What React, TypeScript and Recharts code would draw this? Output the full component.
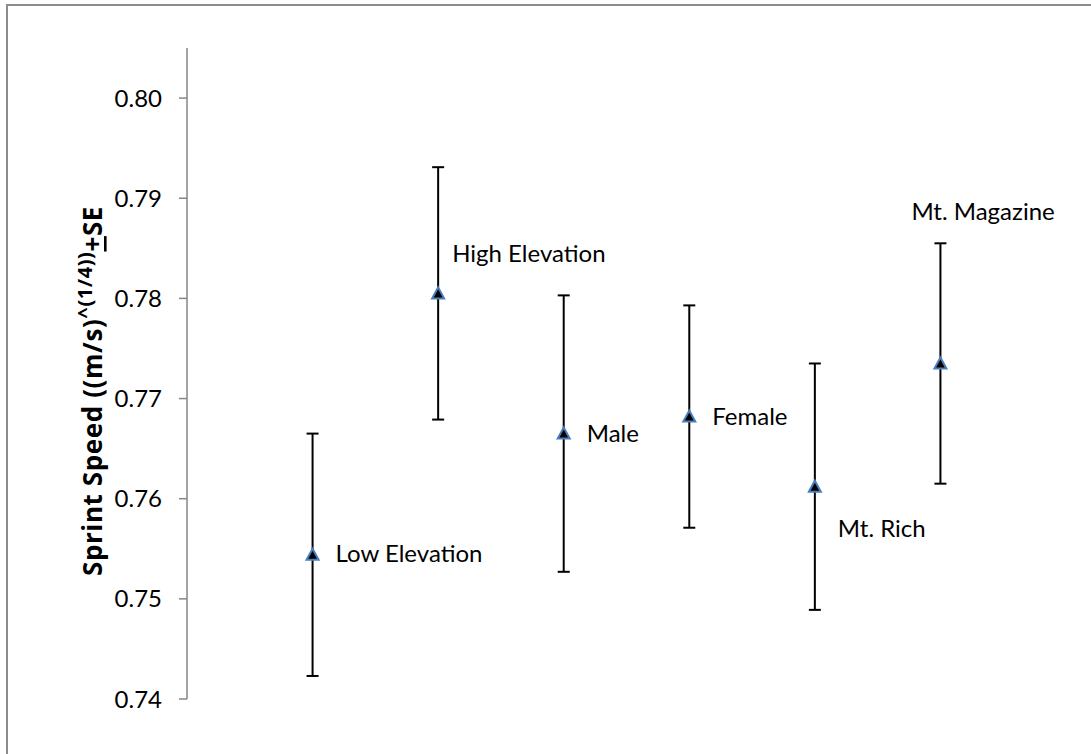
import React from 'react';
import { ScatterChart, Scatter, XAxis, YAxis, ErrorBar } from 'recharts';

const categories = ['Low Elevation', 'High Elevation', 'Male', 'Female', 'Mt. Rich', 'Mt. Magazine'];
const positions = [1, 2, 3, 4, 5, 6];
const means = [0.7544, 0.7805, 0.7665, 0.7682, 0.7612, 0.7735];
const standardErrors = [0.0121, 0.0126, 0.0138, 0.0111, 0.0123, 0.012];
const yTicks = [0.74, 0.75, 0.76, 0.77, 0.78, 0.79, 0.8];

// label placement relative to each point (style only)
const labelDx = [23, 14, 23, 23, 23, -29];
const labelDy = [7, -31, 8, 8, 50, -143];

const data = categories.map((name, i) => ({
  x: positions[i],
  y: means[i],
  se: standardErrors[i],
  name,
  idx: i,
}));

const FONT = 'Lato, "Open Sans", sans-serif';
const TITLE_FONT = '"Open Sans", Lato, sans-serif';

const TriangleWithLabel = (props: any) => {
  const { cx, cy, payload } = props;
  if (cx == null || cy == null) return null;
  const i = payload?.idx ?? 0;
  const h = 10;
  const w = 12;
  const d = `M${cx},${cy - h / 2 - 1} L${cx + w / 2},${cy + h / 2} L${cx - w / 2},${cy + h / 2} Z`;
  return (
    <g>
      <path d={d} fill="#000" stroke="#4a7ebb" strokeWidth={2} strokeLinejoin="miter" />
      <text x={cx + labelDx[i]} y={cy + labelDy[i]} fontFamily={FONT} fontSize={24} fill="#000" textAnchor="start">
        {payload?.name}
      </text>
    </g>
  );
};

const YTitle = () => {
  const x = 102;
  const y = 391;
  return (
    <text
      x={x}
      y={y}
      transform={`rotate(-90, ${x}, ${y})`}
      textAnchor="middle"
      fontFamily={TITLE_FONT}
      fontWeight="bold"
      fontSize={26}
      letterSpacing={0.6}
      fill="#000"
    >
      <tspan>Sprint Speed ((m/s)</tspan>
      <tspan fontSize={20} dy={-10}>^(1/4))</tspan>
      <tspan dy={10} textDecoration="underline">+</tspan>
      <tspan>SE</tspan>
    </text>
  );
};

export default function App() {
  return (
    <div style={{ position: 'absolute', left: 0, top: 0, width: 1091, height: 754, background: '#fff', overflow: 'hidden' }}>
      <div
        style={{
          position: 'absolute',
          left: 6,
          top: 4,
          width: 1200,
          height: 900,
          borderLeft: '2px solid #8c8c8c',
          borderTop: '2px solid #8c8c8c',
        }}
      />
      <div style={{ position: 'absolute', left: 0, top: 0 }}>
        <ScatterChart width={1091} height={754} margin={{ top: 48, right: 25, bottom: 55, left: 0 }}>
          <XAxis type="number" dataKey="x" domain={[0, 7]} hide />
          <YAxis
            type="number"
            dataKey="y"
            domain={[0.74, 0.805]}
            ticks={yTicks}
            allowDataOverflow
            width={187}
            tickFormatter={(v: number) => v.toFixed(2)}
            tick={{ fontFamily: FONT, fontSize: 24, fill: '#000' }}
            axisLine={{ stroke: '#868686', strokeWidth: 1.5 }}
            tickLine={{ stroke: '#868686', strokeWidth: 1.5 }}
            tickSize={8}
            tickMargin={17}
          />
          <Scatter data={data} isAnimationActive={false} shape={TriangleWithLabel}>
            <ErrorBar dataKey="se" direction="y" width={6} stroke="#000" strokeWidth={2} />
          </Scatter>
          <YTitle />
        </ScatterChart>
      </div>
    </div>
  );
}
